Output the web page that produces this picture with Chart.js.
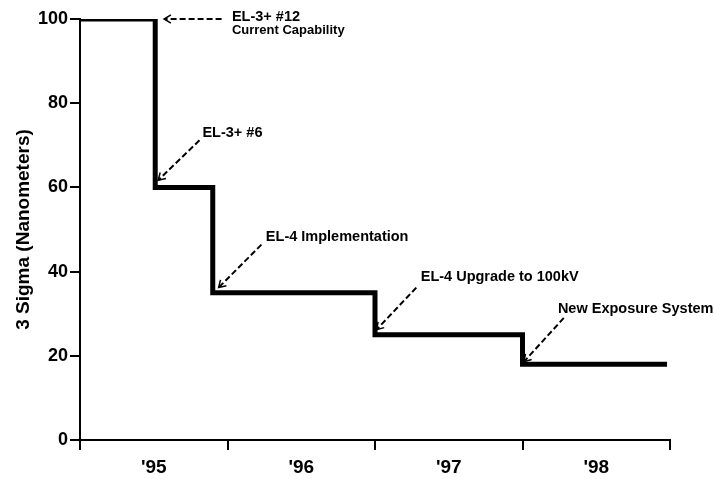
<!DOCTYPE html>
<html><head><meta charset="utf-8">
<script src="https://cdn.jsdelivr.net/npm/chart.js@4"></script>
<style>html,body{margin:0;padding:0;background:#fff}#wrap{width:714px;height:479px;position:relative}</style>
</head><body><div id="wrap"><canvas id="c"></canvas></div>
<script>
const yearBounds = [1995, 1996, 1997, 1998, 1999];
const yearLabels = ["'95", "'96", "'97", "'98"];
const stepX = [1995, 1995.51, 1995.9, 1997, 1998, 1998.98];
const sigma = [100, 60, 35, 25, 18, 18];
const yTicks = [0, 20, 40, 60, 80, 100];
const noteText = [["EL-3+ #12", "Current Capability"], ["EL-3+ #6"], ["EL-4 Implementation"], ["EL-4 Upgrade to 100kV"], ["New Exposure System"]];
const noteTextPos = [[1996.03, 100.5], [1995.83, 73], [1996.26, 48.3], [1997.31, 38.8], [1998.24, 31.2]];
const noteArrowFrom = [[1995.96, 100], [1995.81, 71.2], [1996.23, 46.4], [1997.28, 36.2], [1998.28, 29]];
const noteArrowTo = [[1995.57, 100], [1995.53, 61.7], [1995.94, 36.2], [1997.01, 26.2], [1998.01, 18.6]];

const FONT = "'Liberation Sans', Arial, sans-serif";

const notesPlugin = {
  id: 'notes',
  afterDatasetsDraw(chart) {
    const ctx = chart.ctx, xs = chart.scales.x, ys = chart.scales.y;
    ctx.save();
    ctx.strokeStyle = '#000';
    ctx.fillStyle = '#000';
    for (let i = 0; i < noteText.length; i++) {
      const x1 = xs.getPixelForValue(noteArrowFrom[i][0]), y1 = ys.getPixelForValue(noteArrowFrom[i][1]);
      const x2 = xs.getPixelForValue(noteArrowTo[i][0]), y2 = ys.getPixelForValue(noteArrowTo[i][1]);
      ctx.lineWidth = 2;
      ctx.setLineDash([6, 3]);
      ctx.beginPath(); ctx.moveTo(x1, y1); ctx.lineTo(x2, y2); ctx.stroke();
      ctx.setLineDash([]);
      const ang = Math.atan2(y1 - y2, x1 - x2);
      const L = 8, a = 0.55;
      ctx.lineWidth = 1.5;
      ctx.beginPath();
      ctx.moveTo(x2 + L * Math.cos(ang + a), y2 + L * Math.sin(ang + a));
      ctx.lineTo(x2, y2);
      ctx.lineTo(x2 + L * Math.cos(ang - a), y2 + L * Math.sin(ang - a));
      ctx.stroke();
      const tx = xs.getPixelForValue(noteTextPos[i][0]), ty = ys.getPixelForValue(noteTextPos[i][1]);
      ctx.textBaseline = 'middle';
      ctx.textAlign = 'left';
      ctx.font = "bold 14.5px " + FONT;
      ctx.fillText(noteText[i][0], tx, ty);
      if (noteText[i][1]) {
        ctx.font = "bold 13px " + FONT;
        ctx.fillText(noteText[i][1], tx, ty + 14);
      }
    }
    ctx.restore();
  }
};

new Chart(document.getElementById('c'), {
  type: 'line',
  data: {
    datasets: [{
      data: stepX.map((x, i) => ({ x: x, y: sigma[i] })),
      stepped: true,
      borderColor: '#000',
      borderWidth: 5,
      pointRadius: 0,
      fill: false,
      borderJoinStyle: 'miter',
      borderCapStyle: 'butt'
    }]
  },
  options: {
    responsive: true,
    maintainAspectRatio: false,
    animation: false,
    layout: { padding: { top: 19, right: 44, left: 12, bottom: 0 } },
    plugins: { legend: { display: false }, tooltip: { enabled: false } },
    scales: {
      x: {
        type: 'linear',
        min: yearBounds[0], max: yearBounds[yearBounds.length - 1],
        afterBuildTicks(scale) {
          const t = [];
          for (let i = 0; i < yearBounds.length; i++) {
            t.push({ value: yearBounds[i] });
            if (i < yearLabels.length) t.push({ value: yearBounds[i] + 0.5 });
          }
          scale.ticks = t;
        },
        afterFit(scale) { scale.height = 39; },
        ticks: {
          autoSkip: false, maxRotation: 0, padding: 6, color: '#000',
          font: { family: FONT, size: 19, weight: 'bold' },
          callback: (v) => Number.isInteger(v) ? '' : yearLabels[Math.floor(v) - yearBounds[0]]
        },
        grid: {
          drawOnChartArea: false, drawTicks: true, tickLength: 10, lineWidth: 2,
          color: (c) => (c.tick && Number.isInteger(c.tick.value)) ? '#000' : 'rgba(0,0,0,0)'
        },
        border: { color: '#000', width: 2 }
      },
      y: {
        min: 0, max: 100,
        afterBuildTicks(scale) { scale.ticks = yTicks.map(v => ({ value: v })); },
        afterFit(scale) { scale.width = 68; },
        ticks: { padding: 2, color: '#000', font: { family: FONT, size: 18, weight: 'bold' } },
        grid: { drawOnChartArea: false, drawTicks: true, tickLength: 10, lineWidth: 2, color: '#000' },
        border: { color: '#000', width: 2 },
        title: { display: true, text: '3 Sigma (Nanometers)', color: '#000', padding: { top: 0, bottom: 0 },
          font: { family: FONT, size: 19, weight: 'bold' } }
      }
    }
  },
  plugins: [notesPlugin]
});
</script>
</body></html>
